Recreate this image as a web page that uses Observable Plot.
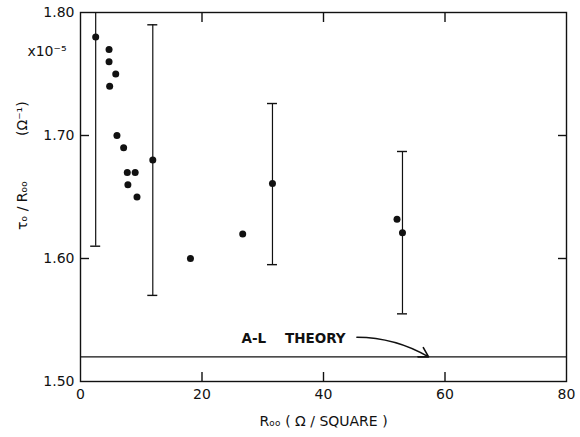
<!DOCTYPE html>
<html>
<head>
<meta charset="utf-8">
<script src="https://cdn.jsdelivr.net/npm/d3@7"></script>
<script src="https://cdn.jsdelivr.net/npm/@observablehq/plot@0.6"></script>
<style>
  html, body { margin: 0; padding: 0; background: #fff; }
  svg { display: block; }
</style>
</head>
<body>
<div id="chart"></div>
<script>
// Measured points: R∞ (Ω/square) vs τ0/R∞ (×10^-5 Ω^-1)
const rValues = [2.5, 4.7, 4.7, 5.8, 4.8, 6.0, 7.1, 7.7, 9.0, 7.8, 9.3, 11.9, 18.1, 26.7, 31.6, 52.1, 53.0];
const tauValues = [1.780, 1.770, 1.760, 1.750, 1.740, 1.700, 1.690, 1.670, 1.670, 1.660, 1.650, 1.680, 1.600, 1.620, 1.661, 1.632, 1.621];

// Error bars (x, low, high)
const errX = [2.5, 11.9, 31.6, 53.0];
const errLow = [1.610, 1.570, 1.595, 1.555];
const errHigh = [1.950, 1.790, 1.726, 1.687];

// A-L theory level
const theoryValue = [1.52];
const theoryLabel = "A-L    THEORY";
const arrowFrom = [45.5, 1.536];
const arrowTo = [57.3, 1.520];

// Axes
const xDomain = [0, 80];
const yDomain = [1.50, 1.80];
const xTickLabels = [0, 20, 40, 60, 80];
const yTickLabels = [1.50, 1.60, 1.70, 1.80];
const xInnerTicks = [20, 40, 60];
const yInnerTicks = [1.60, 1.70];

const points = rValues.map((r, i) => ({r, tau: tauValues[i]}));
const errs = errX.map((x, i) => ({x, lo: errLow[i], hi: errHigh[i]}));

const font = "DejaVu Sans, Liberation Sans, sans-serif";

const chart = Plot.plot({
  width: 580,
  height: 437,
  marginLeft: 80,
  marginRight: 14,
  marginTop: 12,
  marginBottom: 56,
  style: {fontFamily: font, fontSize: "14px", color: "#111", background: "#fff"},
  x: {domain: xDomain},
  y: {domain: yDomain},
  marks: [
    Plot.frame({stroke: "#111", strokeWidth: 1.4}),
    // inward ticks on all sides
    Plot.axisX({anchor: "bottom", ticks: xInnerTicks, tickSize: -9, tickFormat: () => "", label: null, strokeWidth: 1.4}),
    Plot.axisX({anchor: "top", ticks: xInnerTicks, tickSize: -9, tickFormat: () => "", label: null, strokeWidth: 1.4}),
    Plot.axisY({anchor: "left", ticks: yInnerTicks, tickSize: -9, tickFormat: () => "", label: null, strokeWidth: 1.4}),
    Plot.axisY({anchor: "right", ticks: yInnerTicks, tickSize: -9, tickFormat: () => "", label: null, strokeWidth: 1.4}),
    // tick labels
    Plot.axisX({anchor: "bottom", ticks: xTickLabels, tickSize: 0, tickPadding: 8, tickFormat: d3.format("d"), label: null, fontSize: 14}),
    Plot.axisY({anchor: "left", ticks: yTickLabels, tickSize: 0, tickPadding: 6, tickFormat: d3.format(".2f"), label: null, fontSize: 14}),
    // theory line
    Plot.ruleY(theoryValue, {stroke: "#111", strokeWidth: 1.4}),
    Plot.text([theoryLabel], {x: 26.5, y: 1.535, text: d => d, textAnchor: "start", fontSize: 13.5, fontWeight: "bold", fill: "#111"}),
    Plot.arrow([{x1: arrowFrom[0], y1: arrowFrom[1], x2: arrowTo[0], y2: arrowTo[1]}], {x1: "x1", y1: "y1", x2: "x2", y2: "y2", bend: 15, stroke: "#111", strokeWidth: 1.6, headLength: 10}),
    // error bars
    Plot.ruleX(errs, {x: "x", y1: "lo", y2: "hi", stroke: "#111", strokeWidth: 1.2, clip: true}),
    Plot.ruleY(errs, {y: "lo", x1: "x", x2: "x", insetLeft: -5, insetRight: -5, stroke: "#111", strokeWidth: 1.4, clip: true}),
    Plot.ruleY(errs, {y: "hi", x1: "x", x2: "x", insetLeft: -5, insetRight: -5, stroke: "#111", strokeWidth: 1.4, clip: true}),
    // points
    Plot.dot(points, {x: "r", y: "tau", r: 3.5, fill: "#111", stroke: "none"}),
    // annotations
    Plot.text(["x10\u207B\u2075"], {frameAnchor: "top-left", textAnchor: "end", dx: -14, dy: 34, text: d => d, fontSize: 14, fill: "#111"}),
    Plot.text(["\u03C4\u2092 / R\u2092\u2092"], {frameAnchor: "left", rotate: -90, dx: -58, dy: 33, text: d => d, fontSize: 14, fill: "#111"}),
    Plot.text(["(\u03A9\u207B\u00B9)"], {frameAnchor: "left", rotate: -90, dx: -58, dy: -61, text: d => d, fontSize: 14, fill: "#111"}),
    Plot.text(["R\u2092\u2092 ( \u03A9 / SQUARE )"], {frameAnchor: "bottom", dy: 44, text: d => d, fontSize: 14, fill: "#111"})
  ]
});

document.getElementById("chart").append(chart);
</script>
</body>
</html>
